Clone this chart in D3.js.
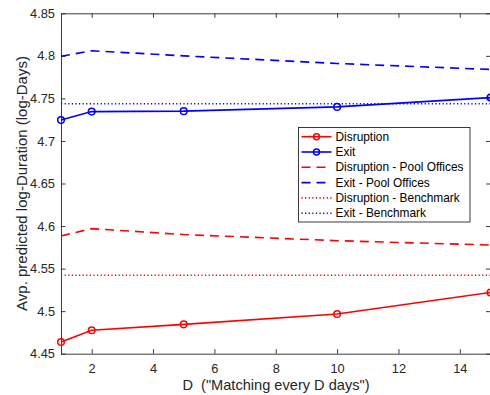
<!DOCTYPE html>
<html>
<head>
<meta charset="utf-8">
<script src="https://cdn.jsdelivr.net/npm/d3@7"></script>
<style>
  html, body { margin: 0; padding: 0; background: #fff; }
  svg { display: block; font-family: "Liberation Sans", Arial, sans-serif; }
</style>
</head>
<body>
<svg id="chart"></svg>
<script>
// matching frequency D (days)
const dValues = [1, 2, 5, 10, 15]

const disruption = [4.4637, 4.4775, 4.4845, 4.4966, 4.5220]
const exit = [4.7245, 4.7345, 4.7350, 4.7400, 4.7510]
const disruptionPool = [4.5883, 4.5970, 4.5900, 4.5828, 4.5777]
const exitPool = [4.7995, 4.8060, 4.8000, 4.7910, 4.7840]
const disruptionBench = [4.5421, 4.5421, 4.5421, 4.5421, 4.5421]
const exitBench = [4.7438, 4.7438, 4.7438, 4.7438, 4.7438]

const xTicks = [2, 4, 6, 8, 10, 12, 14]
const yTicks = [4.45, 4.5, 4.55, 4.6, 4.65, 4.7, 4.75, 4.8, 4.85]

const width = 490, height = 395
const margin = { top: 13.3, right: -0.5, bottom: 41.3, left: 61 }

const series = [
  { name: "Disruption", values: disruption, color: "#ff0000", dash: null, marker: true },
  { name: "Exit", values: exit, color: "#0000ff", dash: null, marker: true },
  { name: "Disruption - Pool Offices", values: disruptionPool, color: "#ff0000", dash: "9,6", marker: false },
  { name: "Exit - Pool Offices", values: exitPool, color: "#0000ff", dash: "9,6", marker: false },
  { name: "Disruption - Benchmark", values: disruptionBench, color: "#ff0000", dash: "1.2,2.4", marker: false },
  { name: "Exit - Benchmark", values: exitBench, color: "#0000ff", dash: "1.2,2.4", marker: false },
]

const svg = d3.select("#chart")
    .attr("width", width)
    .attr("height", height)
    .attr("viewBox", `0 0 ${width} ${height}`)

const x = d3.scaleLinear()
    .domain([1, 15])
    .range([margin.left, width - margin.right])
const y = d3.scaleLinear()
    .domain([4.45, 4.85])
    .range([height - margin.bottom, margin.top])

const axisColor = "#262626"
const tickLen = 4.5

// axes box (MATLAB style, ticks inside)
const gx = svg.append("g")
    .attr("transform", `translate(0,${y(4.45)})`)
    .call(d3.axisBottom(x).tickValues(xTicks).tickSizeInner(-tickLen).tickSizeOuter(0).tickPadding(10))
const gxTop = svg.append("g")
    .attr("transform", `translate(0,${y(4.85)})`)
    .call(d3.axisTop(x).tickValues(xTicks).tickSizeInner(-tickLen).tickSizeOuter(0).tickFormat(""))
const gy = svg.append("g")
    .attr("transform", `translate(${x(1)},0)`)
    .call(d3.axisLeft(y).tickValues(yTicks).tickSizeInner(-tickLen).tickSizeOuter(0).tickPadding(6).tickFormat(d3.format("")))
const gyRight = svg.append("g")
    .attr("transform", `translate(${x(15)},0)`)
    .call(d3.axisRight(y).tickValues(yTicks).tickSizeInner(-tickLen).tickSizeOuter(0).tickFormat(""))

for (const g of [gx, gxTop, gy, gyRight]) {
  g.select(".domain").attr("stroke", axisColor).attr("stroke-width", 0.9)
  g.selectAll(".tick line").attr("stroke", axisColor).attr("stroke-width", 0.9)
  g.selectAll(".tick text")
      .attr("fill", axisColor)
      .style("font-size", "12.8px")
      .style("font-family", "'Liberation Sans', Arial, sans-serif")
}

// lines
const line = d3.line()
    .x((d, i) => x(dValues[i]))
    .y(d => y(d))

const plot = svg.append("g")

for (const s of series) {
  plot.append("path")
      .datum(s.values)
      .attr("fill", "none")
      .attr("stroke", s.color)
      .attr("stroke-width", 1.6)
      .attr("stroke-dasharray", s.dash)
      .attr("d", line)
  if (s.marker) {
    plot.selectAll(null)
      .data(s.values)
      .join("circle")
        .attr("cx", (d, i) => x(dValues[i]))
        .attr("cy", d => y(d))
        .attr("r", 3.3)
        .attr("fill", "none")
        .attr("stroke", s.color)
        .attr("stroke-width", 1.5)
  }
}

// axis labels
svg.append("text")
    .attr("x", 276)
    .attr("y", 390)
    .attr("text-anchor", "middle")
    .attr("fill", axisColor)
    .style("font-size", "14.6px")
    .style("white-space", "pre")
    .text('D  ("Matching every D days")')

svg.append("text")
    .attr("transform", `translate(22,${(margin.top + height - margin.bottom) / 2}) rotate(-90)`)
    .attr("text-anchor", "middle")
    .attr("dy", "0.35em")
    .attr("fill", axisColor)
    .style("font-size", "15px")
    .text("Avp. predicted log-Duration (log-Days)")

// legend
const legend = svg.append("g").attr("transform", "translate(298.5,127.5)")
legend.append("rect")
    .attr("width", 171.5)
    .attr("height", 94.5)
    .attr("fill", "#fff")
    .attr("stroke", axisColor)
    .attr("stroke-width", 0.9)

const row = legend.selectAll(".row")
  .data(series)
  .join("g")
    .attr("class", "row")
    .attr("transform", (d, i) => `translate(0,${9.2 + i * 15.3})`)

row.append("line")
    .attr("x1", 3)
    .attr("x2", 33)
    .attr("stroke", d => d.color)
    .attr("stroke-width", 1.6)
    .attr("stroke-dasharray", d => d.dash)

row.filter(d => d.marker).append("circle")
    .attr("cx", 18)
    .attr("r", 3)
    .attr("fill", "none")
    .attr("stroke", d => d.color)
    .attr("stroke-width", 1.5)

row.append("text")
    .attr("x", 37)
    .attr("dy", "0.35em")
    .attr("fill", "#000")
    .style("font-size", "11.9px")
    .text(d => d.name)
</script>
</body>
</html>
